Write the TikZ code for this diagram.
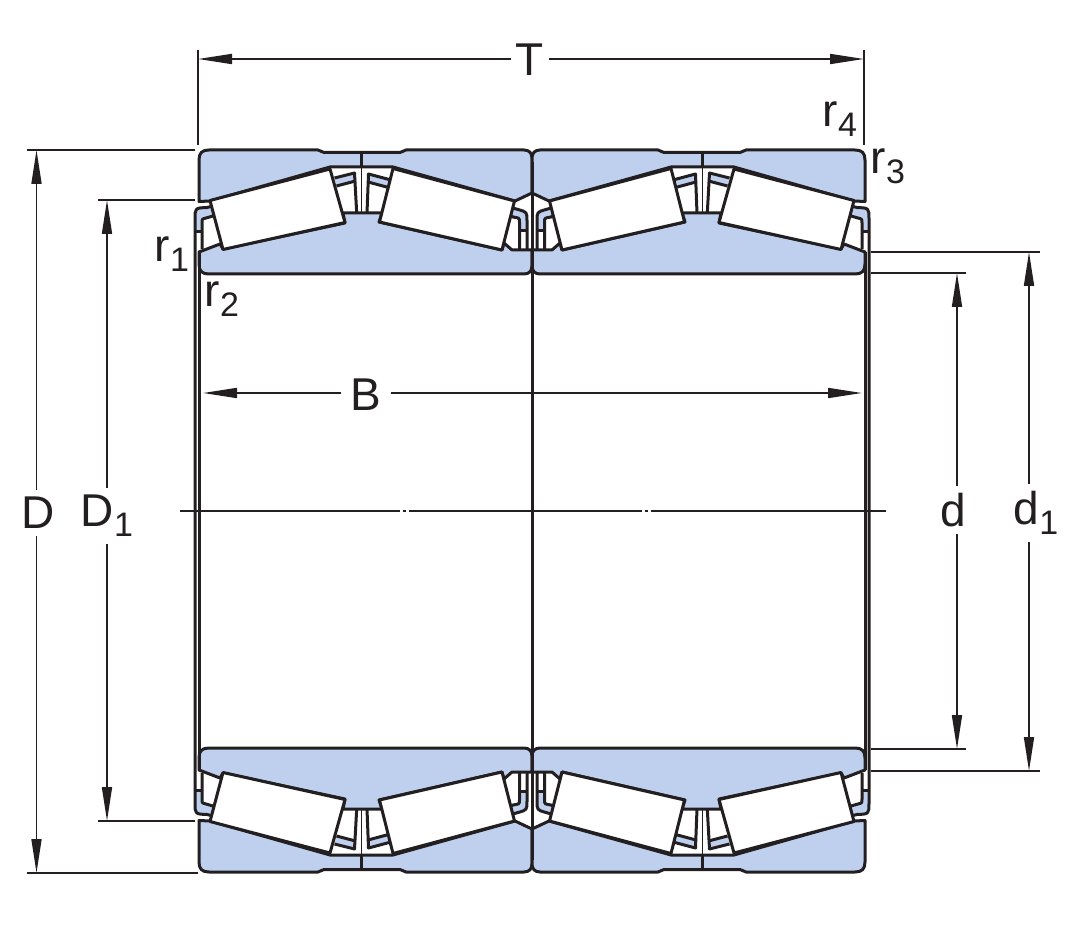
\documentclass[tikz,border=0pt]{standalone}
\usepackage{fontspec}
\setmainfont{Liberation Sans}
\usetikzlibrary{arrows.meta}
\definecolor{ringblue}{HTML}{BED0EE}
\definecolor{inkdark}{HTML}{231F20}
\newcommand{\labelsub}[1]{\raisebox{-10pt}{\fontsize{34}{34}\selectfont #1}}
\tikzset{
    part/.style={draw=inkdark,line width=3pt,line join=round},
    ring/.style={part,fill=ringblue},
    roller/.style={part,fill=white},
    cage/.style={fill=ringblue},
    extline/.style={draw=inkdark,line width=1.7pt},
    dimline/.style={draw=inkdark,line width=1.7pt,-{Triangle[length=34pt,width=10pt]}},
    dimlabel/.style={text=inkdark,font=\fontsize{46}{50}\selectfont,inner sep=0pt,outer sep=7pt},
    smalllabel/.style={text=inkdark,font=\fontsize{46}{50}\selectfont,inner sep=0pt}
}
\begin{document}
\begin{tikzpicture}[x=1pt,y=-1pt]
    \useasboundingbox (0,0) rectangle (1080,928);
    % four mirrored quarters of the bearing
    \foreach \sx/\sy in {1/1,-1/1,1/-1,-1/-1} {
    \begin{scope}[shift={(532,511)},xscale=\sx,yscale=\sy,shift={(-532,-511)}]
        \filldraw[ring] (199,201.5) -- (199,160) .. controls (199,153) and (202,150) .. (209,150) -- (318,150) -- (324,152.5) -- (400,152.5) -- (406,150) -- (524,150) .. controls (529,150) and (532,153) .. (532,158) -- (532,193) -- (515,201) -- (393,167) -- (330,167) -- (210,201) -- cycle;
        \filldraw[ring] (199,252) -- (199,264) .. controls (199,271) and (202,274) .. (209,274) -- (524,274) .. controls (529,274) and (532,271) .. (532,266) -- (532,250) -- (512,250) -- (504,243) -- (502,250) -- (379,222) -- (382,213) -- (343,213) -- (345,223) -- (223,249) -- (220,244) -- cycle;
        % cages
        \fill[cage] (195,232) -- (195,219) .. controls (195,208) .. (207,207.5) -- (211,206.5) -- (213,216) -- (206,218) .. controls (202,219) .. (202,223) -- (202,232) -- cycle;
        \draw[part] (195,511) -- (195,219) .. controls (195,208) .. (207,207.5) -- (211,206.5);
        \draw[part] (213,216) -- (206,218) .. controls (202,219) .. (202,223) -- (202,249);
        \draw[part] (195,232) -- (202,232);
        \fill[cage] (513,208) -- (518,209.5) .. controls (527,212) .. (527,221) -- (527,231) -- (519.5,231) -- (519.5,222) .. controls (519.5,218) .. (513,217) -- (511,216) -- cycle;
        \draw[part] (513,208) -- (518,209.5) .. controls (527,212) .. (527,221) -- (527,250);
        \draw[part] (511.5,216) -- (513,217) .. controls (519.5,218) .. (519.5,222) -- (519.5,250);
        \draw[part] (519.5,231) -- (527,231);
        \fill[cage] (334.5,178) -- (354.5,173) -- (356.5,181) -- (336.5,186) -- cycle;
        \draw[part] (334.5,178) -- (354.5,173) -- (356.7,213);
        \draw[part] (336.5,186) -- (355.5,181);
        \fill[cage] (368.5,174) -- (391,180) -- (388.5,187.5) -- (368,182) -- cycle;
        \draw[part] (391,180) -- (368.5,174) -- (367,213);
        \draw[part] (388.5,187.5) -- (368,182);
        \draw[extline] (361.5,167) -- (361.5,213);
        \draw[part] (361.5,152.5) -- (361.5,167);
        % rollers
        \filldraw[roller] (210,200.5) -- (330,169) -- (345,222.5) -- (223,249.5) -- cycle;
        \filldraw[roller] (393,168.5) -- (514.5,201) -- (502,250) -- (379.5,222) -- cycle;
        \draw[part] (532,162) -- (532,511);
        \draw[part] (199,252) -- (199,511);
    \end{scope}
    }
    % centre line
    \coordinate (CL) at (180,511);
    \coordinate (CR) at (886,511);
    \draw[extline,dash pattern=on 220pt off 3pt on 3pt off 3pt on 233pt off 3pt on 3pt off 3pt on 240pt] (CL) -- (CR);
    % width T
    \coordinate (TL) at (198,59);
    \coordinate (TR) at (864,59);
    \node[dimlabel,outer sep=5pt] (Tlabel) at (530,60) {T};
    \draw[extline] (198,50) -- (198,145);
    \draw[extline] (864,50) -- (864,145);
    \draw[dimline] (Tlabel.west |- TL) -- (TL);
    \draw[dimline] (Tlabel.east |- TR) -- (TR);
    % width B
    \coordinate (BL) at (203,393);
    \coordinate (BR) at (862,393);
    \node[dimlabel,outer sep=10pt] (Blabel) at (366,395) {B};
    \draw[dimline] (Blabel.west |- BL) -- (BL);
    \draw[dimline] (Blabel.east |- BR) -- (BR);
    % diameter D
    \coordinate (DT) at (36.5,150);
    \coordinate (DB) at (36.5,873);
    \node[dimlabel] (Dlabel) at (38,513) {D};
    \draw[extline] (27,150) -- (195,150);
    \draw[extline] (27,873) -- (198,873);
    \draw[dimline] (Dlabel.north -| DT) -- (DT);
    \draw[dimline] (Dlabel.south -| DB) -- (DB);
    % diameter D1
    \coordinate (EA) at (107,200);
    \coordinate (EB) at (107,821);
    \node[dimlabel] (Elabel) at (107,516) {D\labelsub{1}};
    \draw[extline] (98,200) -- (195,200);
    \draw[extline] (98,821) -- (195,821);
    \draw[dimline] (Elabel.north -| EA) -- (EA);
    \draw[dimline] (Elabel.south -| EB) -- (EB);
    % bore d
    \coordinate (dT) at (957,273);
    \coordinate (dB) at (957,749);
    \node[dimlabel] (dlabel) at (953,510) {d};
    \draw[extline] (871,273) -- (966,273);
    \draw[extline] (871,749) -- (966,749);
    \draw[dimline] (dlabel.north -| dT) -- (dT);
    \draw[dimline] (dlabel.south -| dB) -- (dB);
    % bore d1
    \coordinate (fT) at (1029,252);
    \coordinate (fB) at (1029,771);
    \node[dimlabel] (flabel) at (1036,513) {d\labelsub{1}};
    \draw[extline] (871,252) -- (1040,252);
    \draw[extline] (871,771) -- (1040,771);
    \draw[dimline] (flabel.north -| fT) -- (fT);
    \draw[dimline] (flabel.south -| fB) -- (fB);
    % radii
    \node[smalllabel] (rone) at (172,254) {r\labelsub{1}};
    \node[smalllabel] (rtwo) at (222,299) {r\labelsub{2}};
    \node[smalllabel] (rthree) at (888,166) {r\labelsub{3}};
    \node[smalllabel] (rfour) at (840,119) {r\labelsub{4}};
\end{tikzpicture}
\end{document}
